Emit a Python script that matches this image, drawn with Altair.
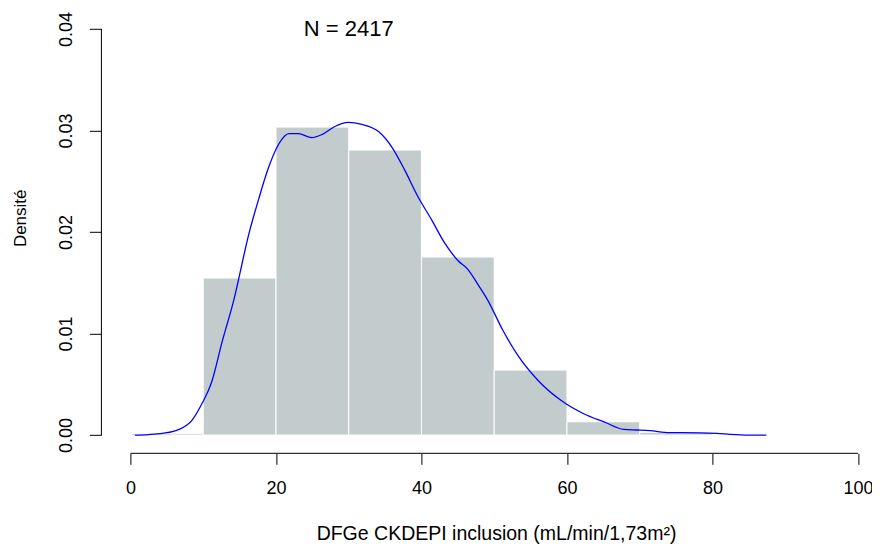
import altair as alt
import pandas as pd

# Histogram bins (density scale)
bin_start = [0, 10, 20, 30, 40, 50, 60, 70, 80]
bin_end = [10, 20, 30, 40, 50, 60, 70, 80, 90]
bin_density = [0.00017, 0.01547, 0.03034, 0.02808, 0.01754, 0.0064, 0.00131, 0.00027, 0.00004]

# Kernel density curve
kde_x = [0.6, 2.5, 4.4, 6.7, 8.5, 9.9, 11.1, 12.6, 14.2, 16.3, 17.6, 19.0, 20.4, 21.8,
         23.1, 24.9, 26.3, 28.1, 29.9, 31.8, 34.1, 35.9, 37.7, 39.5, 41.4, 43.2, 45.0,
         46.4, 47.7, 49.1, 51.2, 53.2, 56.0, 59.4, 62.3, 65.1, 67.8, 69.6, 71.4, 74.1,
         76.0, 80.6, 82.4, 85.1, 87.4]
kde_y = [0.0, 0.00005, 0.00017, 0.00056, 0.0015, 0.0032, 0.0051, 0.0092, 0.0133, 0.0199,
         0.0232, 0.0264, 0.0287, 0.0297, 0.0297, 0.0293, 0.0296, 0.0304, 0.0308, 0.0306,
         0.0299, 0.0284, 0.0261, 0.0235, 0.0212, 0.0189, 0.0172, 0.0163, 0.0149, 0.0133,
         0.0103, 0.0079, 0.0054, 0.0033, 0.0021, 0.0013, 0.00056, 0.0005, 0.00043, 0.00023,
         0.00023, 0.00017, 0.00007, 0.0, 0.0]

x_ticks = [0, 20, 40, 60, 80, 100]
y_ticks = [0.0, 0.01, 0.02, 0.03, 0.04]

note_x = [30]
note_y = [0.04]
note_text = ["N = 2417"]

x_title = "DFGe CKDEPI inclusion (mL/min/1,73m²)"
y_title = "Densité"

W = 770.6
H = 438.5
FONT = "Liberation Sans"

xscale = alt.Scale(domain=[-4, 101.93], nice=False, zero=False)
yscale = alt.Scale(domain=[-0.0016, 0.0416], nice=False, zero=False)

bars_df = pd.DataFrame({"start": bin_start, "end": bin_end, "density": bin_density})
kde_df = pd.DataFrame({"x": kde_x, "y": kde_y})
note_df = pd.DataFrame({"x": note_x, "y": note_y, "t": note_text})
xaxis_df = pd.DataFrame({"a": [min(x_ticks)], "b": [max(x_ticks)]})
yaxis_df = pd.DataFrame({"a": [min(y_ticks)], "b": [max(y_ticks)]})

bars = alt.Chart(bars_df).mark_rect(fill="#C2CCCC", stroke="white", strokeWidth=1).encode(
    x=alt.X("start:Q", scale=xscale,
            axis=alt.Axis(values=x_ticks, title=x_title, domain=False, grid=False,
                          tickSize=11, tickColor="black", tickWidth=1, offset=2,
                          labelPadding=24, labelBaseline="middle", labelFontSize=18,
                          labelColor="black", labelFlush=False, labelFont=FONT,
                          titleFont=FONT, titleFontSize=19.5, titleFontWeight="normal",
                          titleColor="black", titleX=394.6, titleY=80,
                          titleBaseline="middle", titleAlign="center")),
    x2="end:Q",
    y=alt.Y("density:Q", scale=yscale,
            axis=alt.Axis(values=y_ticks, format=".2f", title=y_title, domain=False,
                          grid=False, tickSize=12, tickColor="black", tickWidth=1,
                          labelAngle=270, labelAlign="center", labelBaseline="middle",
                          labelPadding=23, labelFontSize=18, labelColor="black",
                          labelFlush=False, labelFont=FONT, titleFont=FONT,
                          titleFontSize=17, titleFontWeight="normal", titleColor="black",
                          titleAngle=270, titleX=-81, titleY=205,
                          titleBaseline="middle", titleAlign="center")),
    y2=alt.Y2(datum=0),
)

curve = alt.Chart(kde_df).mark_line(color="#0000FF", strokeWidth=1.3, interpolate="monotone").encode(
    x=alt.X("x:Q", scale=xscale, axis=None),
    y=alt.Y("y:Q", scale=yscale, axis=None),
)

note = alt.Chart(note_df).mark_text(font=FONT, fontSize=22, color="black",
                                    align="center", baseline="middle").encode(
    x=alt.X("x:Q", scale=xscale, axis=None),
    y=alt.Y("y:Q", scale=yscale, axis=None),
    text="t:N",
)

xline = alt.Chart(xaxis_df).mark_rule(color="black", strokeWidth=1).encode(
    x=alt.X("a:Q", scale=xscale, axis=None),
    x2="b:Q",
    y=alt.value(H + 2),
)

yline = alt.Chart(yaxis_df).mark_rule(color="black", strokeWidth=1).encode(
    x=alt.value(0),
    y=alt.Y("a:Q", scale=yscale, axis=None),
    y2="b:Q",
)

chart = alt.layer(bars, curve, note, xline, yline).resolve_axis(
    x="independent", y="independent"
).properties(
    width=W, height=H,
    autosize=alt.AutoSizeParams(type="none"),
    padding={"left": 93.4, "top": 4.8, "right": 0, "bottom": 92.7},
    background="white",
).configure_view(stroke=None)

chart.save("out.html", embed_options={"renderer": "svg", "actions": False})
